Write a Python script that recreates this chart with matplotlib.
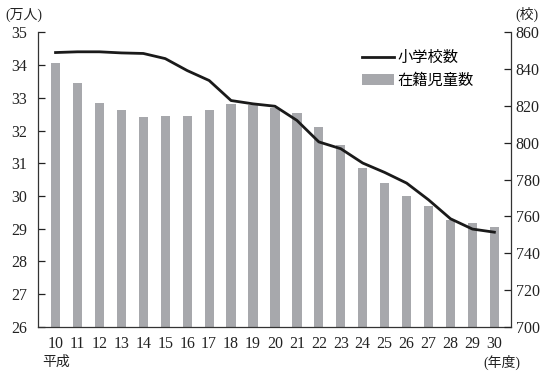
import matplotlib.pyplot as plt
from matplotlib.lines import Line2D
from matplotlib.patches import Patch

plt.rcParams['font.family'] = ['Liberation Serif', 'Noto Sans CJK JP']

# 平成10〜30年度
years = list(range(10, 31))
# 在籍児童数（万人）
students = [34.06, 33.44, 32.85, 32.62, 32.43, 32.46, 32.46, 32.62, 32.80, 32.77,
            32.68, 32.55, 32.12, 31.57, 30.86, 30.41, 30.01, 29.68, 29.25, 29.18, 29.05]
# 小学校数（校）
schools = [849.1, 849.5, 849.5, 848.9, 848.6, 845.8, 839.3, 833.9, 823.0, 821.2,
           819.9, 812.2, 800.5, 796.8, 789.0, 783.9, 778.1, 769.0, 758.7, 753.1, 751.4]

bar_color = '#a7a8ac'
line_color = '#1a1a1a'
text_color = '#222222'

fig = plt.figure(figsize=(5.45, 3.71), dpi=100)
ax = fig.add_axes([0.0697, 0.1194, 0.8688, 0.7930])
ax2 = ax.twinx()

ax.bar(years, students, width=0.42, color=bar_color, zorder=2)
ax2.plot(years, schools, color=line_color, linewidth=2.0, zorder=3)

ax.set_xlim(9.2, 30.78)
ax.set_ylim(26, 35)
ax2.set_ylim(700, 860)

ax.set_xticks(years)
ax.set_xticklabels([str(y) for y in years])
ax.set_yticks(range(26, 36))
ax2.set_yticks(range(700, 861, 20))

for a in (ax, ax2):
    a.spines['top'].set_visible(False)
    for s in a.spines.values():
        s.set_linewidth(0.9)
        s.set_color('#333333')
ax.spines['right'].set_visible(False)
ax2.spines['left'].set_visible(False)
ax2.spines['bottom'].set_visible(False)

ax.tick_params(axis='y', direction='in', length=5, width=0.9, pad=8,
               labelsize=11.5, colors=text_color)
ax.tick_params(axis='x', length=0, pad=7, labelsize=11.5, colors=text_color)
ax2.tick_params(axis='y', direction='in', length=5, width=0.9, pad=3,
                labelsize=11.5, colors=text_color)

# 単位・注記
fig.text(5 / 545, 1 - 15 / 371, '(万人)', fontsize=10, color=text_color, va='center')
fig.text(515 / 545, 1 - 14 / 371, '(校)', fontsize=10, color=text_color, va='center')
fig.text(42 / 545, 1 - 362 / 371, '平成', fontsize=10, color=text_color, va='center')
fig.text(483 / 545, 1 - 362.5 / 371, '(年度)', fontsize=10, color=text_color, va='center')

handles = [Line2D([], [], color=line_color, linewidth=2.0),
           Patch(facecolor=bar_color, edgecolor='none')]
ax.legend(handles, ['小学校数', '在籍児童数'], frameon=False, fontsize=11,
          loc='upper left', bbox_to_anchor=(362 / 545, 1 - 51 / 371),
          bbox_transform=fig.transFigure, handlelength=2.1,
          handletextpad=0.2, labelspacing=0.55, borderpad=0, borderaxespad=0)

fig.savefig('out.png', dpi=100)
